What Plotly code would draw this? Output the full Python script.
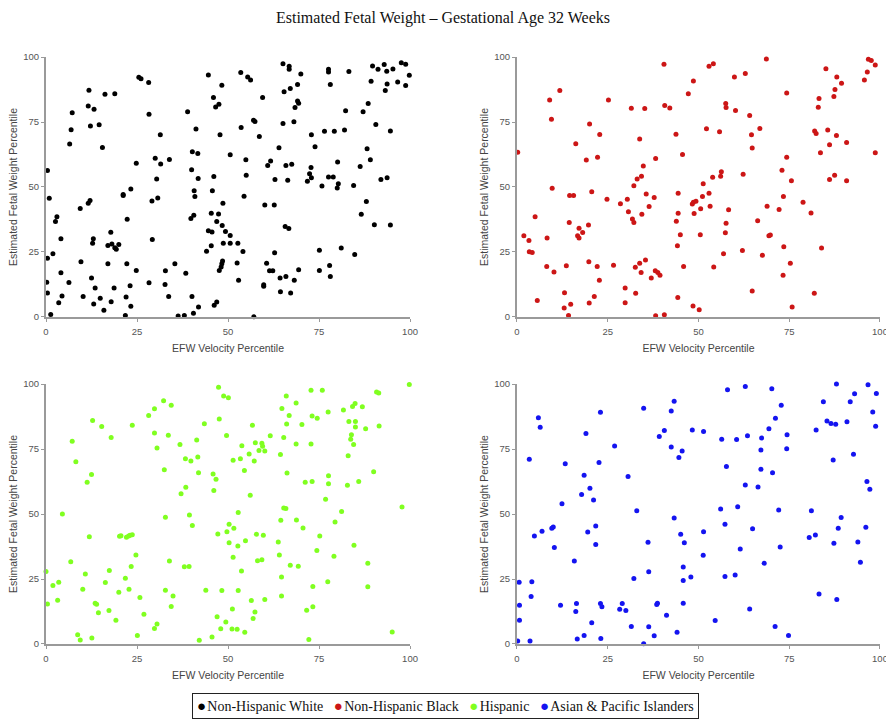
import plotly.graph_objects as go

title_text = "Estimated Fetal Weight – Gestational Age 32 Weeks"
x_title = "EFW Velocity Percentile"
y_title = "Estimated Fetal Weight Percentile"
tick_values = [0, 25, 50, 75, 100]
tick_labels = ["0", "25", "50", "75", "100"]
group_names = ["Non-Hispanic White", "Non-Hispanic Black", "Hispanic", "Asian & Pacific Islanders"]
group_colors = ["#000000", "#CC1616", "#80FF20", "#1414F0"]

# (EFW velocity percentile, estimated fetal weight percentile)
nhw_points = [
    (0.4,56.3),(0.9,45.7),(0.4,22.6),(1.9,24.3),(2.6,36.7),(3.0,38.6),(4.1,30.1),(4.1,17.0),(0.2,13.4),(0.4,9.2),
    (1.3,1.0),(3.5,5.5),(4.4,8.1),(6.3,13.3),(6.5,66.5),(6.9,72.0),(7.2,78.6),(9.4,41.7),(9.6,21.2),(10.2,7.9),
    (11.8,87.2),(11.6,81.2),(12.2,73.5),(13.2,79.9),(11.6,43.7),(12.1,44.8),(12.8,28.4),(13.0,30.1),(12.5,15.0),(13.5,11.1),
    (13.1,5.0),(14.6,73.9),(15.5,65.2),(16.2,85.7),(18.9,85.9),(14.9,7.2),(15.9,2.6),(17.0,27.5),(17.0,20.5),(17.8,32.6),
    (18.1,28.1),(18.9,26.6),(19.3,26.1),(20.0,27.9),(18.7,11.1),(17.9,5.9),(21.2,47.1),(21.2,46.7),(22.0,7.7),(21.8,0.6),
    (22.3,37.6),(22.2,20.5),(23.1,12.0),(23.3,4.1),(23.3,49.2),(24.8,59.1),(24.8,17.9),(25.5,92.2),(26.1,91.6),(28.2,90.2),
    (28.3,78.0),(29.1,44.6),(29.2,29.8),(28.3,13.2),(30.0,61.1),(30.4,53.1),(30.7,45.8),(31.4,70.1),(31.5,58.8),(32.8,17.8),
    (32.7,12.5),(33.7,7.9),(33.9,60.6),(35.4,20.5),(36.3,0.4),(38.0,0.6),(38.4,16.8),(38.9,78.9),(39.8,37.9),(40.0,56.6),
    (40.2,63.6),(40.6,39.1),(40.7,48.6),(40.9,46.3),(41.2,72.3),(41.7,62.9),(41.8,53.3),(40.1,7.9),(40.5,1.4),(41.9,3.8),
    (44.1,25.3),(44.6,93.1),(48.3,89.1),(46.0,84.4),(46.6,80.8),(47.5,81.8),(47.8,70.1),(44.6,33.2),(45.4,39.9),(45.6,32.7),
    (46.1,54.0),(45.7,48.6),(45.4,27.4),(46.9,36.7),(47.4,39.6),(48.4,35.2),(48.6,43.7),(48.7,28.4),(49.3,32.9),(48.5,21.5),
    (48.3,20.5),(48.1,19.2),(47.6,17.9),(46.2,4.5),(46.9,5.8),(50.6,62.4),(50.6,31.3),(50.6,28.4),
    (52.7,28.4),(53.5,94.0),(55.4,92.3),(56.2,91.2),(53.6,72.9),(57.0,75.7),(57.4,75.2),(58.6,69.4),(59.5,84.4),(54.9,60.5),
    (55.0,54.5),(54.4,46.4),(54.1,25.2),(52.5,20.8),(52.9,14.1),(57.1,0.1),(60.1,43.1),(62.7,43.1),(60.9,58.3),(61.7,60.0),
    (62.9,52.9),(64.0,65.1),(60.6,20.7),(61.4,17.8),(62.3,17.8),(62.8,24.7),(59.8,12.4),(59.8,11.8),(64.3,15.0),(65.9,15.6),
    (64.4,9.7),(67.2,9.2),(68.2,14.1),(69.4,18.2),(65.1,97.4),(66.8,96.4),(66.8,95.3),(70.0,93.5),(65.4,86.6),(67.1,87.9),
    (69.1,89.4),(69.1,83.1),(69.4,82.2),(68.4,80.6),(65.1,74.4),(68.1,75.1),(65.9,58.3),(67.5,58.7),(66.4,52.6),(65.7,34.8),
    (66.7,34.0),(72.9,70.1),(73.9,65.5),(72.8,57.5),(72.4,55.1),(72.9,53.6),(71.8,52.2),(75.1,25.7),(75.1,17.9),(75.8,50.4),
    (76.5,71.4),(77.6,95.3),(77.6,94.2),(78.1,89.4),(79.2,71.4),(77.6,53.8),(78.9,53.8),(80.1,59.6),(80.0,49.6),(80.3,51.2),
    (77.9,19.8),(78.1,15.6),(81.1,26.5),(82.0,71.9),(82.3,79.3),(83.2,94.4),(84.5,50.6),(84.8,24.0),(86.3,57.9),(86.6,39.5),
    (87.1,78.9),(88.0,44.4),(88.2,64.7),(88.5,82.1),(89.1,60.5),(89.3,90.7),(89.7,96.5),(90.2,35.5),(90.6,74.0),(91.2,95.3),
    (92.0,52.9),(92.9,97.1),(93.2,87.1),(93.6,94.5),(93.7,89.6),(93.7,53.6),(94.6,71.5),(94.6,35.4),(95.3,95.4),(96.6,90.4),
    (97.6,97.8),(98.8,97.2),(98.8,89.0),(99.8,93.0),
]

nhb_points = [
    (0.2,63.4),(1.9,31.2),(3.3,29.4),(3.4,25.1),(4.2,24.8),(5.0,38.6),(5.6,6.3),(9.0,83.5),(9.5,76.1),(9.7,49.5),
    (8.3,30.4),(8.2,19.4),(10.2,17.3),(11.8,87.1),(13.1,9.3),(13.0,3.5),(13.6,19.7),(14.2,0.6),(14.8,4.9),(14.4,36.3),
    (14.5,46.7),(15.6,46.7),(16.2,66.6),(16.7,31.2),(17.1,30.4),(17.1,34.1),(18.1,32.5),(19.1,60.4),(20.0,74.2),(19.7,35.4),
    (20.6,48.2),(19.8,21.2),(19.9,5.4),(21.3,7.9),(22.1,19.4),(22.2,61.4),(22.8,70.2),(22.7,14.1),(24.8,45.3),(25.2,83.5),
    (26.6,19.9),(28.5,43.6),(29.8,11.1),(29.8,5.5),(30.4,45.3),(30.7,40.5),(31.5,80.3),(31.8,37.7),(32.2,36.3),(32.2,50.5),
    (32.6,19.1),(32.7,9.1),(33.1,53.1),(33.8,68.5),(33.8,20.7),(34.3,54.1),(34.2,17.1),(34.4,39.5),(34.8,58.1),(35.2,80.2),
    (35.4,21.9),(35.6,47.3),(36.4,42.5),(37.0,15.0),(37.8,46.0),(38.2,61.0),(38.1,17.8),(38.2,0.5),(38.8,17.1),(39.4,16.1),
    (40.5,97.2),(40.7,81.3),(40.6,0.9),(42.1,80.4),(43.8,70.3),(43.9,36.8),(44.2,27.4),(44.4,47.6),(44.4,39.9),(44.3,7.5),
    (45.0,31.6),(45.6,62.5),(45.9,19.4),(47.2,85.9),(48.6,90.8),(48.3,43.5),(48.6,44.1),(49.3,44.5),(48.8,39.8),(48.5,4.2),
    (50.2,2.8),(50.6,41.6),(50.5,31.6),
    (52.9,96.4),(54.1,97.4),(57.5,82.1),(57.6,80.6),(52.2,72.4),(55.8,71.2),(59.9,92.3),(62.9,93.7),(60.2,79.4),(64.1,77.5),
    (68.7,99.2),(64.6,70.1),(66.9,72.5),(64.8,65.0),(51.3,51.2),(53.9,53.7),(56.1,54.1),(56.3,55.9),(51.1,46.3),(52.9,47.6),
    (53.2,42.6),(58.3,41.2),(57.6,36.1),(57.4,32.4),(62.3,54.9),(56.9,24.3),(54.2,19.2),(62.1,25.6),(66.3,37.0),(67.6,23.7),
    (68.9,42.6),(69.4,31.2),(69.8,31.5),(64.8,10.0),(72.2,41.3),(73.0,56.4),(73.4,46.3),(73.5,27.0),(73.3,16.1),(74.3,86.2),
    (74.3,61.4),(75.3,20.7),(75.6,52.4),(75.8,3.8),(78.8,44.1),(81.0,40.0),(81.9,9.1),(82.0,71.5),(82.4,70.6),(83.0,80.7),
    (83.2,84.0),(83.6,63.2),(83.9,26.5),(85.1,95.5),(85.6,71.9),(86.1,66.2),(86.1,52.9),(87.3,84.8),(87.6,87.5),(87.5,54.5),
    (88.0,69.8),(88.1,92.3),(89.4,89.9),(90.8,67.1),(90.8,52.4),(95.7,91.2),(96.5,94.2),(96.8,99.1),(97.6,98.7),(98.7,96.9),
    (98.7,63.2),
]

hisp_points = [
    (0.0,27.9),(0.4,15.4),(1.9,22.5),(3.5,23.8),(3.2,16.8),(4.5,50.0),(6.8,31.6),(7.2,78.0),(8.2,70.1),(8.7,3.6),
    (9.4,1.5),(10.1,21.1),(10.8,26.9),(11.3,62.2),(11.9,41.3),(12.5,65.2),(12.8,86.0),(12.6,2.3),(13.5,15.7),(13.9,15.3),
    (14.4,12.0),(15.3,83.7),(16.3,23.7),(17.3,12.9),(17.4,28.3),(17.9,79.4),(19.2,9.1),(20.0,19.9),(20.2,41.4),(20.6,41.6),
    (21.8,25.3),(22.1,41.1),(22.7,41.5),(23.1,41.8),(23.7,42.0),(23.4,29.8),(22.8,21.1),(23.7,84.1),(24.7,34.2),(25.1,3.3),
    (25.8,17.9),(26.9,11.4),(28.2,87.9),(29.8,90.5),(29.8,81.2),(30.5,75.4),(29.8,6.0),(30.5,7.7),(32.3,93.6),(32.5,67.0),
    (32.8,48.8),(32.8,20.7),(33.6,80.3),(33.9,31.9),(34.4,91.8),(34.4,14.4),(34.9,18.5),(36.8,76.7),(37.1,57.8),(38.3,71.3),
    (38.4,60.3),(38.0,29.7),(39.3,29.8),(39.4,49.6),(39.8,70.4),(40.2,45.6),(41.4,78.5),(41.7,71.9),(41.9,65.9),(42.1,1.4),
    (43.5,84.7),(43.9,20.7),(45.6,2.7),(45.9,65.4),(46.1,59.0),(46.7,63.4),(47.2,42.3),(47.0,10.5),(47.4,98.8),(47.6,86.5),
    (48.3,20.6),(48.0,5.9),(48.8,95.4),(50.1,94.7),(49.6,80.2),(49.4,8.5),(49.7,43.2),(50.3,46.1),(50.3,38.9),
    (51.4,70.7),(53.4,71.3),(53.8,76.3),(54.5,66.7),(55.8,73.1),(56.7,84.1),(57.2,70.4),(57.5,77.4),(58.5,74.4),(59.3,77.2),
    (59.5,76.1),(60.1,74.2),(61.6,80.1),(56.1,57.2),(52.8,50.6),(51.6,44.5),(52.7,37.7),(54.8,39.7),(51.4,33.4),(53.7,28.1),
    (57.8,42.2),(59.7,41.8),(58.1,32.0),(59.3,32.4),(52.8,20.6),(51.2,13.5),(51.1,5.8),(52.5,5.7),(54.6,4.5),(56.4,16.7),
    (57.4,12.3),(56.9,9.8),(60.1,17.1),(63.8,39.2),(64.1,34.2),(64.5,47.6),(65.3,52.3),(65.9,52.1),(64.7,25.8),(64.7,18.5),
    (67.1,30.3),(69.3,29.9),(68.8,47.7),(70.6,44.6),(64.4,72.9),(65.3,79.4),(66.2,65.8),(64.8,90.6),(66.0,95.4),(66.8,87.9),
    (66.1,84.6),(68.7,92.7),(68.7,76.9),(70.3,84.4),(71.2,62.2),(71.6,13.0),(72.2,1.7),(72.8,97.6),(73.1,87.7),(72.8,76.9),
    (73.1,62.5),(73.3,22.1),(73.3,14.3),(74.5,86.8),(74.4,36.0),(75.2,41.5),(75.9,97.6),(76.8,55.7),(77.5,89.2),(77.6,64.7),
    (77.6,61.6),(77.4,23.9),(79.1,33.8),(79.4,46.9),(81.2,51.0),(81.7,90.0),(83.2,85.6),(83.0,72.4),(82.8,61.1),(83.7,78.8),
    (83.9,80.5),(84.5,76.7),(84.2,91.4),(84.9,92.5),(85.0,85.6),(85.0,83.5),(84.6,38.0),(85.9,62.5),(86.9,91.3),(87.8,82.8),
    (88.4,31.1),(88.4,22.0),(90.0,66.3),(90.8,96.9),(91.4,96.5),(91.5,83.9),(95.1,4.6),(97.8,52.7),(99.8,99.8),
]

api_points = [
    (0.2,1.2),(0.6,23.8),(0.7,14.9),(0.7,9.1),(3.4,71.1),(3.6,1.2),(4.1,23.9),(3.9,18.3),(4.8,41.5),(5.9,87.0),
    (6.4,83.4),(6.9,43.4),(9.6,44.5),(10.0,45.0),(10.3,37.1),(12.0,14.9),(12.4,53.9),(13.3,69.3),(15.8,31.9),(16.2,12.5),
    (16.4,15.6),(16.6,1.9),(17.8,57.5),(18.5,64.9),(19.0,81.0),(18.5,3.3),(19.5,43.1),(20.1,59.9),(20.6,8.2),(21.1,55.4),
    (21.7,45.4),(21.7,38.3),(22.6,69.8),(23.0,89.1),(23.0,15.6),(23.4,14.3),(23.1,2.1),(26.9,76.2),(28.3,13.4),(29.0,15.6),
    (30.0,12.9),(30.6,64.4),(31.5,6.7),(32.2,25.2),(33.0,51.3),(34.9,90.7),(34.9,0.1),(36.1,39.1),(36.3,27.8),(36.3,6.6),
    (37.8,3.2),(38.5,15.2),(38.7,15.7),(39.2,79.8),(40.6,82.1),(41.2,11.1),(42.5,89.6),(42.5,75.8),(43.3,93.4),(43.3,48.5),
    (44.1,4.5),(44.6,71.7),(45.5,74.2),(45.1,42.2),(46.1,38.9),(45.8,29.6),(45.8,24.4),(45.8,15.7),(47.9,25.8),(48.3,82.3),
    (51.4,81.7),(58.0,97.8),(62.9,99.0),(70.2,98.2),(56.4,78.8),(60.5,78.7),(63.5,80.1),(67.4,79.2),(69.4,82.8),(71.2,86.8),
    (72.8,91.8),(74.4,80.5),(67.2,74.6),(74.3,75.1),(57.7,68.3),(67.2,67.2),(70.4,65.9),(62.9,61.2),(66.4,60.4),(56.1,51.9),
    (60.8,52.8),(72.1,51.5),(57.3,46.1),(51.4,43.2),(64.9,44.3),(51.3,34.1),(61.5,36.5),(72.5,37.3),(68.1,31.1),(57.3,26.0),
    (60.1,26.5),(54.6,9.0),(64.1,13.5),(71.1,6.7),(74.8,3.3),(81.1,51.3),(80.5,41.0),(82.2,41.9),(82.4,82.3),(84.4,93.2),
    (85.4,85.8),(86.5,84.8),(87.8,84.5),(88.0,100.0),(87.1,70.8),(89.3,48.7),(88.5,44.5),(87.3,38.8),(83.2,19.2),(88.1,17.1),
    (90.9,85.5),(91.8,93.2),(93.0,96.3),(92.7,73.0),(93.9,39.2),(94.6,31.4),(96.1,44.9),(96.4,62.5),(97.2,59.5),(96.7,99.7),
    (98.0,89.2),(98.8,83.8),(99.0,96.4),
]

series = [nhw_points, nhb_points, hisp_points, api_points]
axis_ids = ["", "2", "3", "4"]

fig = go.Figure()
for pts, name, color, aid in zip(series, group_names, group_colors, axis_ids):
    fig.add_trace(go.Scatter(
        x=[p[0] for p in pts], y=[p[1] for p in pts],
        mode="markers", name=name, showlegend=False,
        marker=dict(color=color, size=5, line=dict(width=0)),
        xaxis="x" + aid, yaxis="y" + aid, cliponaxis=False,
    ))

x_domains = [[0, 0.4365], [0.5647, 1], [0, 0.4365], [0.5647, 1]]
y_domains = [[0.5571, 1], [0.5571, 1], [0, 0.4429], [0, 0.4429]]

axis_common = dict(
    range=[0, 100], tickmode="array", tickvals=tick_values, ticktext=tick_labels,
    showgrid=False, zeroline=False, showline=True, linecolor="#9a9a9a", linewidth=2,
    ticks="outside", ticklen=3, tickcolor="#9a9a9a", tickwidth=1, automargin=False,
    ticklabeloverflow="allow",
    tickfont=dict(family="Liberation Sans, Arial, sans-serif", size=9.5, color="#555555"),
)
title_font = dict(family="Liberation Sans, Arial, sans-serif", size=10.5, color="#444444")

layout_axes = {}
for i, aid in enumerate(axis_ids):
    xa = dict(axis_common, domain=x_domains[i], anchor="y" + aid, ticklabelstandoff=2,
              title=dict(text=x_title, font=title_font, standoff=8))
    ya = dict(axis_common, domain=y_domains[i], anchor="x" + aid,
              title=dict(text=y_title, font=title_font, standoff=4))
    layout_axes["xaxis" + aid] = xa
    layout_axes["yaxis" + aid] = ya

# Legend row (coloured markers + group names) drawn as one bordered annotation
legend_parts = []
for name, color in zip(group_names, group_colors):
    legend_parts.append(
        "<span style='color:%s;font-size:15px'>●</span><span style='font-size:5px'> </span>%s" % (color, name)
    )
legend_text = "&nbsp;&nbsp;&nbsp;".join(legend_parts)

fig.update_layout(
    width=886, height=721,
    margin=dict(l=46, r=6, t=57, b=77),
    paper_bgcolor="white", plot_bgcolor="white",
    title=dict(text=title_text, x=0.5, xanchor="center", y=1 - 17 / 721, yanchor="middle", yref="container",
               font=dict(family="Liberation Serif, Times New Roman, serif", size=16, color="#111111")),
    showlegend=False,
    annotations=[dict(
        text=legend_text, xref="paper", yref="paper", x=(445 - 46) / 834, y=(644 - 706) / 587,
        xanchor="center", yanchor="middle", showarrow=False,
        font=dict(family="Liberation Serif, Times New Roman, serif", size=14, color="#111111"),
        bordercolor="#222222", borderwidth=1, borderpad=4, bgcolor="white",
    )],
    **layout_axes,
)

fig.write_html("out.html")
